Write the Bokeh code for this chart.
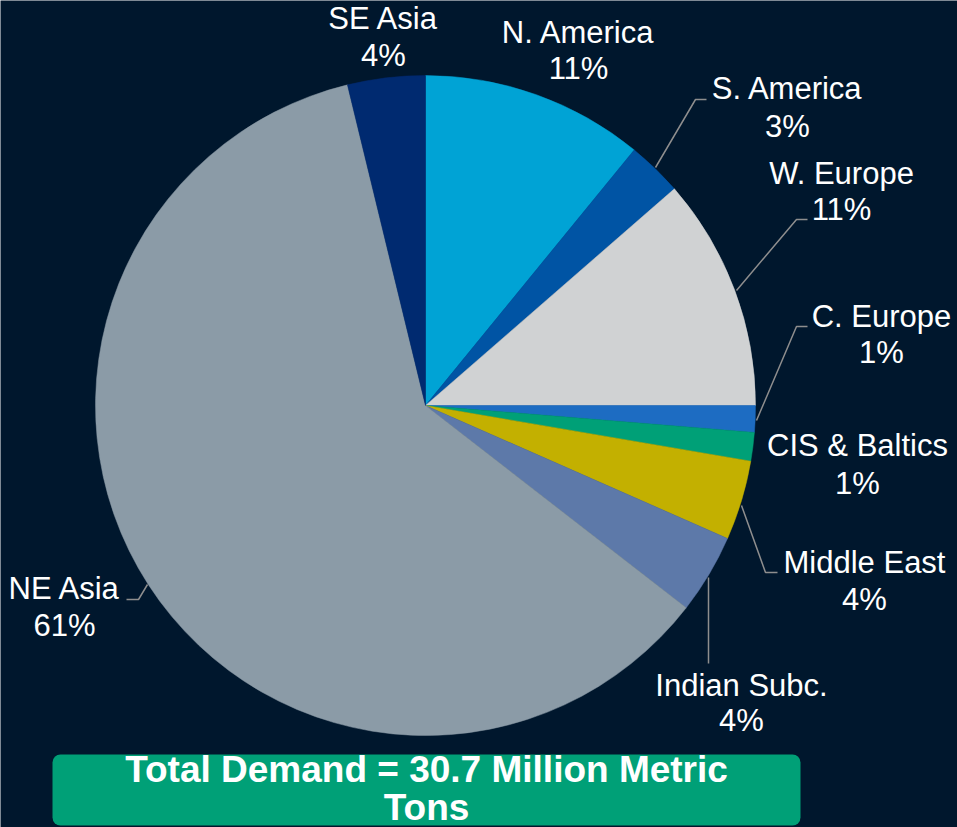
import math
from bokeh.plotting import figure
from bokeh.models import Range1d, ColumnDataSource, BoxAnnotation
from bokeh.core.properties import value
from bokeh.embed import file_html
from bokeh.resources import INLINE

# ---- data ----
regions = ["N. America", "S. America", "W. Europe", "C. Europe", "CIS & Baltics",
           "Middle East", "Indian Subc.", "NE Asia", "SE Asia"]
shares = [10.9, 2.7, 11.4, 1.3, 1.4, 3.9, 3.9, 60.7, 3.8]
colors = ["#00A3D5", "#0054A4", "#D0D2D3", "#1D6CC2", "#00A077",
          "#C3B000", "#5D79A9", "#8B9BA7", "#002A70"]
total_text = ["Total Demand = 30.7 Million Metric", "Tons"]

# ---- layout (page pixel coordinates, y down) ----
W, H = 957, 827
def Y(py):
    return H - py

cx, cy, R = 425, Y(405), 330

label_pos = {
    "N. America": (578, 32, 68),
    "S. America": (787, 88, 126),
    "W. Europe": (841, 173, 209),
    "C. Europe": (881, 316, 352),
    "CIS & Baltics": (857, 445, 483),
    "Middle East": (864, 562, 599),
    "Indian Subc.": (741, 685, 720),
    "NE Asia": (64, 588, 625),
    "SE Asia": (383, 18, 55),
}
leaders = {
    "S. America": [(706, 99), (695, 99), (655, 167)],
    "W. Europe": [(807, 219), (796, 219), (736, 290)],
    "C. Europe": [(807, 326), (796, 326), (756, 420)],
    "Middle East": [(777, 572), (765, 572), (741, 505)],
    "Indian Subc.": [(708, 663), (708, 577)],
    "NE Asia": [(126, 599), (138, 599), (147, 584)],
}

BG = "#00172D"

p = figure(width=W, height=H, output_backend="svg", toolbar_location=None,
           x_range=Range1d(0, W), y_range=Range1d(0, H),
           min_border=0, background_fill_color=BG, border_fill_color=BG)
p.axis.visible = False
p.grid.visible = False
p.outline_line_color = None

# wedges
tot = sum(shares)
starts, ends = [], []
cum = 0.0
for s in shares:
    starts.append(math.pi / 2 - 2 * math.pi * cum / tot)
    cum += s
    ends.append(math.pi / 2 - 2 * math.pi * cum / tot)
src = ColumnDataSource(dict(start=starts, end=ends, color=colors))
p.wedge(x=cx, y=cy, radius=R, start_angle="start", end_angle="end",
        direction="clock", fill_color="color", line_color="color",
        line_width=0.5, source=src)

# leader lines
xs = [[pt[0] for pt in v] for v in leaders.values()]
ys = [[Y(pt[1]) for pt in v] for v in leaders.values()]
p.multi_line(xs=xs, ys=ys, line_color="#8E8E8E", line_width=1.5)

# labels
lx, ly1, ly2, names, pcts = [], [], [], [], []
for r, s in zip(regions, shares):
    x, y1, y2 = label_pos[r]
    lx.append(x); ly1.append(Y(y1)); ly2.append(Y(y2))
    names.append(r); pcts.append(f"{round(s)}%")
lab = ColumnDataSource(dict(x=lx, y1=ly1, y2=ly2, name=names, pct=pcts))
for ycol, tcol in (("y1", "name"), ("y2", "pct")):
    p.text(x="x", y=ycol, text=tcol, source=lab, text_color="white",
           text_font=value("Liberation Sans"), text_font_size="31px",
           text_align="center", text_baseline="middle")

# total box
box = BoxAnnotation(left=52, right=800, top=Y(754), bottom=Y(825),
                    fill_color="#00A077", fill_alpha=1.0, line_color=None,
                    border_radius=8, level="underlay")
p.add_layout(box)
p.text(x=[426, 426], y=[Y(769), Y(807)], text=total_text, text_color="white",
       text_font=value("Liberation Sans"), text_font_style="bold",
       text_font_size="37px", text_align="center", text_baseline="middle")

open("out.html", "w").write(file_html(p, INLINE))
